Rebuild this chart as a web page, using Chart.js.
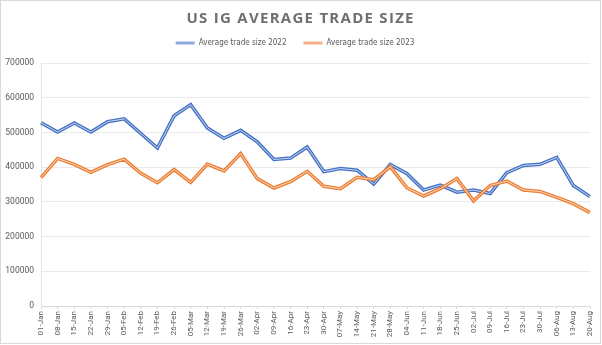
<!DOCTYPE html>
<html>
<head>
<meta charset="utf-8">
<script src="https://cdn.jsdelivr.net/npm/chart.js@4/dist/chart.umd.min.js"></script>
<style>
  html, body { margin: 0; padding: 0; background: #fff; }
  #wrap { position: relative; width: 602px; height: 345px; }
</style>
</head>
<body>
<div id="wrap"><canvas id="c" width="602" height="345"></canvas></div>
<script>
const chartTitle = 'US IG AVERAGE TRADE SIZE';
const categories = ['01-Jan','08-Jan','15-Jan','22-Jan','29-Jan','05-Feb','12-Feb','19-Feb','26-Feb','05-Mar','12-Mar','19-Mar','26-Mar','02-Apr','09-Apr','16-Apr','23-Apr','30-Apr','07-May','14-May','21-May','28-May','04-Jun','11-Jun','18-Jun','25-Jun','02-Jul','09-Jul','16-Jul','23-Jul','30-Jul','06-Aug','13-Aug','20-Aug'];
const seriesNames = ['Average trade size 2022', 'Average trade size 2023'];
const values2022 = [528000,501000,527000,501000,531000,539000,497000,455000,548000,580000,513000,483000,506000,473000,422000,426000,458000,387000,396000,391000,351000,408000,381000,334000,348000,328000,334000,324000,384000,405000,408000,428000,347000,315000];
const values2023 = [370000,425000,408000,385000,407000,423000,382000,355000,393000,356000,409000,389000,439000,367000,340000,358000,388000,345000,338000,371000,364000,401000,340000,317000,338000,367000,303000,347000,360000,334000,330000,313000,295000,269000];
const yTicks = [0,100000,200000,300000,400000,500000,600000,700000];

const lineColors = ['#4472C4', '#ED7D31'];
const legendColors = ['#8FAADC', '#F4B183'];

const frameAndTitle = {
  id: 'frameAndTitle',
  afterLayout(chart) {
    if (chart.legend) { chart.legend.top -= 6; chart.legend.bottom -= 6; }
  },
  beforeDraw(chart) {
    const ctx = chart.ctx;
    ctx.save();
    ctx.fillStyle = '#fff';
    ctx.fillRect(0, 0, chart.width, chart.height);
    ctx.strokeStyle = '#d9d9d9';
    ctx.lineWidth = 1;
    ctx.strokeRect(0.5, 0.5, chart.width - 2, chart.height - 2);
    ctx.restore();
  },
  afterDraw(chart) {
    const ctx = chart.ctx;
    ctx.save();
    ctx.font = 'bold 15px "Open Sans"';
    ctx.letterSpacing = '0px';
    const n = chartTitle.length;
    const w0 = ctx.measureText(chartTitle).width;
    const target = 227;
    const ls = (target - w0) / (n - 1);
    ctx.letterSpacing = ls.toFixed(2) + 'px';
    ctx.fillStyle = '#6f6f6f';
    ctx.textAlign = 'left';
    ctx.textBaseline = 'middle';
    ctx.fillText(chartTitle, 300 - target / 2, 18.5);
    ctx.restore();
  }
};

new Chart(document.getElementById('c'), {
  type: 'line',
  data: {
    labels: categories,
    datasets: [
      { label: seriesNames[0], data: values2022, borderColor: lineColors[0], backgroundColor: legendColors[0], borderWidth: 3.5, pointRadius: 0, tension: 0, order: 4 },
      { label: seriesNames[0], data: values2022, borderColor: 'rgba(255,255,255,0.7)', backgroundColor: legendColors[0], borderWidth: 1, pointRadius: 0, tension: 0, order: 3, overlay: true },
      { label: seriesNames[1], data: values2023, borderColor: lineColors[1], backgroundColor: legendColors[1], borderWidth: 3.5, pointRadius: 0, tension: 0, order: 2 },
      { label: seriesNames[1], data: values2023, borderColor: 'rgba(255,255,255,0.7)', backgroundColor: legendColors[1], borderWidth: 1, pointRadius: 0, tension: 0, order: 1, overlay: true }
    ]
  },
  options: {
    responsive: false,
    animation: false,
    layout: { padding: { top: 28, right: 12, bottom: 0, left: 0 } },
    plugins: {
      title: { display: false },
      tooltip: { enabled: false },
      legend: {
        display: true,
        position: 'top',
        align: 'center',
        labels: {
          boxWidth: 19,
          boxHeight: 3,
          padding: 17,
          color: '#595959',
          font: { family: "'Liberation Sans Narrow', 'DejaVu Sans Condensed', Roboto", size: 8 },
          generateLabels(chart) {
            return chart.data.datasets
              .map((ds, i) => ({ ds, i }))
              .filter(o => !o.ds.overlay)
              .map(o => ({
                text: o.ds.label,
                fillStyle: o.ds.backgroundColor,
                strokeStyle: o.ds.backgroundColor,
                lineWidth: 0,
                hidden: false,
                datasetIndex: o.i,
                fontColor: '#595959'
              }));
          }
        }
      }
    },
    scales: {
      x: {
        offset: false,
        grid: { display: true, drawOnChartArea: false, drawTicks: true, tickLength: 3, color: '#d9d9d9' },
        border: { display: true, color: '#d9d9d9' },
        ticks: {
          autoSkip: false,
          maxRotation: 90,
          minRotation: 90,
          padding: 2,
          color: '#595959',
          font: { family: 'Roboto', size: 8 }
        },
        afterFit(scale) { scale.height = 39; }
      },
      y: {
        min: 0,
        max: 700000,
        afterBuildTicks(scale) { scale.ticks = yTicks.map(v => ({ value: v })); },
        grid: { color: '#ebebeb', drawTicks: false },
        border: { display: true, color: '#e6e6e6' },
        ticks: {
          padding: 7,
          color: '#595959',
          font: { family: 'Roboto', size: 8.5 },
          callback: v => String(v)
        },
        afterFit(scale) { scale.width = 41; }
      }
    }
  },
  plugins: [frameAndTitle]
});
</script>
</body>
</html>
